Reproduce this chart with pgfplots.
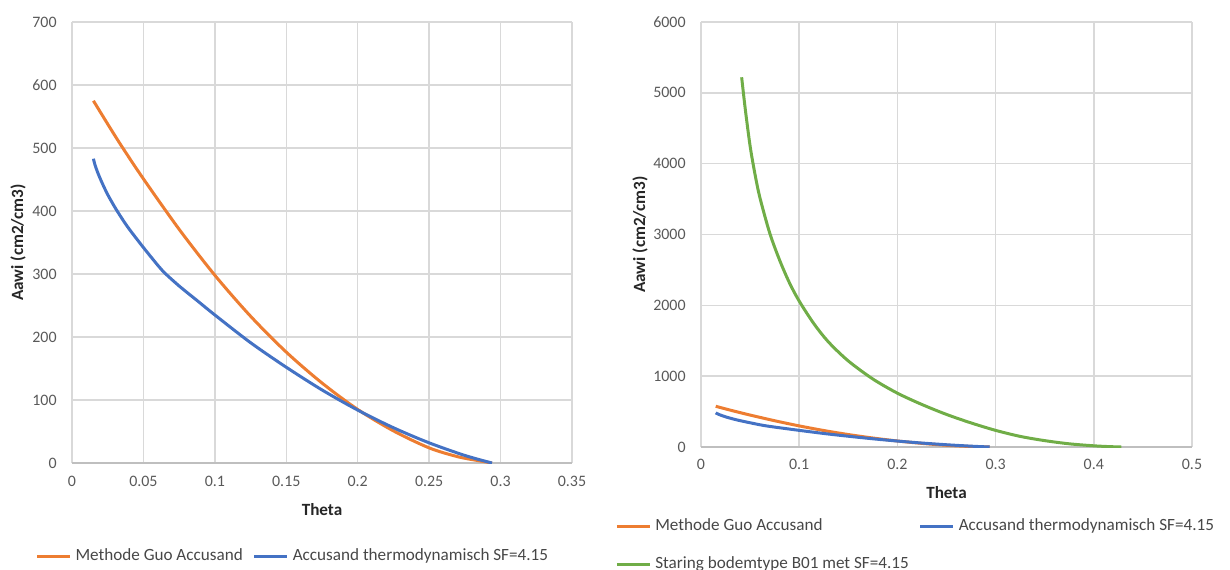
\documentclass[border=0pt]{standalone}
\usepackage{pgfplots}
\pgfplotsset{compat=1.18}
\usepackage{fontspec}
\setmainfont{Carlito}
\definecolor{cOr}{HTML}{ED7D31}
\definecolor{cBl}{HTML}{4472C4}
\definecolor{cGr}{HTML}{70AD47}
\definecolor{cGrid}{HTML}{D9D9D9}
\definecolor{cAx}{HTML}{BFBFBF}
\definecolor{cTick}{HTML}{595959}
\definecolor{cTitle}{HTML}{262626}

\pgfplotstableread{
x y
0.015 575
0.025 538
0.035 502
0.05 451
0.075 371
0.1 298
0.125 233
0.15 176
0.175 127
0.2 85
0.225 51
0.25 24
0.27 10
0.285 3.5
0.294 0
}\guo
\pgfplotstableread{
x y
0.015 483
0.016 474
0.018 461
0.021 445
0.025 426
0.03 406
0.035 388
0.04 371.5
0.05 342
0.06 314
0.064 303.5
0.075 281
0.0875 258
0.1 235
0.125 191
0.15 152
0.175 116
0.2 84
0.225 56
0.25 32
0.275 12
0.294 0
}\thermo
\pgfplotstableread{
x y
0.0414 5220
0.045 4780
0.05 4250
0.055 3850
0.06 3520
0.07 3020
0.08 2640
0.09 2320
0.1 2060
0.115 1740
0.13 1480
0.15 1215
0.175 960
0.2 760
0.225 600
0.25 460
0.275 340
0.3 235
0.325 150
0.35 90
0.375 45
0.4 17
0.415 6
0.428 0
}\staring

\pgfplotsset{
  excel/.style={
    scale only axis,
    axis x line*=bottom, axis y line*=left,
    x axis line style={draw=cAx, line width=0.75bp},
    y axis line style={draw=none},
    major tick length=0pt,
    tick style={draw=none},
    grid=major,
    major grid style={draw=cGrid, line width=0.75bp},
    ticklabel style={font=\fontsize{8}{9.6}\selectfont, text=cTick, inner sep=0pt},
    yticklabel style={anchor=east, xshift=-7.5bp},
    xticklabel style={anchor=north, yshift=-6.5bp},
    label style={font=\fontsize{8.6}{10}\selectfont\bfseries, text=cTitle},
    legend style={draw=none, fill=none, inner sep=0pt, outer sep=0pt,
      font=\fontsize{8.6}{10}\selectfont, text=cTitle!85,
      nodes={inner sep=1bp},
      /tikz/every odd column/.style={column sep=1bp},
      /tikz/every even column/.style={column sep=4bp},
      row sep=9.5bp},
    legend cell align=left,
    legend image code/.code={\draw[##1] (0bp,0bp) -- (16.5bp,0bp);},
  },
}

\begin{document}
\begin{tikzpicture}
\path[use as bounding box] (0,0) rectangle (615bp,-285bp);

\begin{axis}[excel,
  at={(36bp,-231.5bp)}, anchor=south west,
  width=250bp, height=220.5bp,
  xmin=0, xmax=0.35, ymin=0, ymax=700,
  xtick={0,0.05,0.1,0.15,0.2,0.25,0.3,0.35},
  xticklabels={0,0.05,0.1,0.15,0.2,0.25,0.3,0.35},
  ytick={0,100,200,300,400,500,600,700},
  yticklabels={0,100,200,300,400,500,600,700},
  xlabel={Theta}, ylabel={Aawi (cm2/cm3)},
  xlabel style={at={(axis description cs:0.5,-0.1066)}, anchor=center},
  ylabel style={at={(axis description cs:-0.108,0.5)}, anchor=center},
  legend columns=2,
  legend style={at={(axis description cs:-0.073,-0.2109)}, anchor=west},
]
\addplot[cOr, line width=1.5bp, smooth, tension=0.5] table[x=x,y=y] {\guo};
\addlegendentry{Methode Guo Accusand}
\addplot[cBl, line width=1.5bp, smooth, tension=0.5] table[x=x,y=y] {\thermo};
\addlegendentry{Accusand thermodynamisch SF=4.15}
\end{axis}

\begin{axis}[excel,
  at={(350.5bp,-223.5bp)}, anchor=south west,
  width=245.5bp, height=212.5bp,
  xmin=0, xmax=0.5, ymin=0, ymax=6000,
  xtick={0,0.1,0.2,0.3,0.4,0.5},
  xticklabels={0,0.1,0.2,0.3,0.4,0.5},
  ytick={0,1000,2000,3000,4000,5000,6000},
  yticklabels={0,1000,2000,3000,4000,5000,6000},
  xticklabel style={yshift=0.5bp},
  xlabel={Theta}, ylabel={Aawi (cm2/cm3)},
  xlabel style={at={(axis description cs:0.5,-0.1082)}, anchor=center},
  ylabel style={at={(axis description cs:-0.1242,0.5)}, anchor=center},
  legend columns=2,
  legend style={at={(axis description cs:-0.1745,-0.231)}, anchor=west},
]
\addplot[cOr, line width=1.5bp, smooth, tension=0.5] table[x=x,y=y] {\guo};
\addlegendentry{Methode Guo Accusand}
\addplot[cBl, line width=1.5bp, smooth, tension=0.5] table[x=x,y=y] {\thermo};
\addlegendentry{Accusand thermodynamisch SF=4.15}
\addplot[cGr, line width=1.5bp, smooth, tension=0.5] table[x=x,y=y] {\staring};
\addlegendentry{Staring bodemtype B01 met SF=4.15}
\end{axis}
\end{tikzpicture}
\end{document}
